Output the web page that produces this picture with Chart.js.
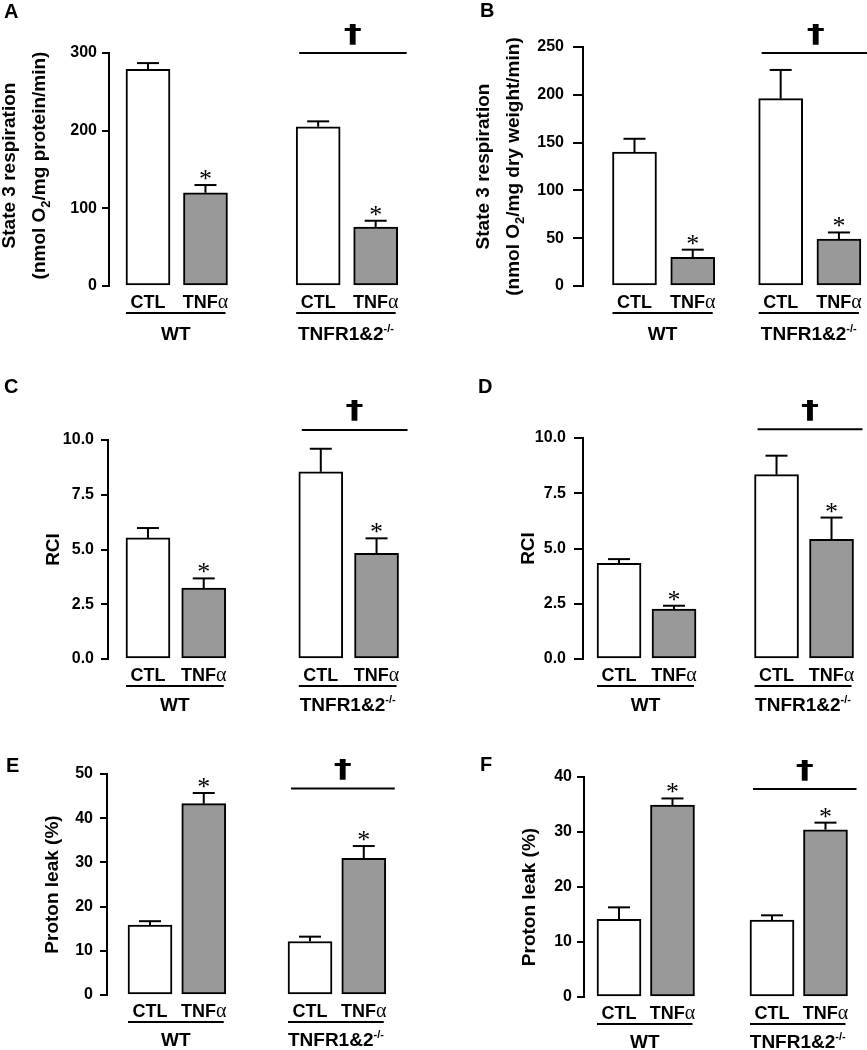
<!DOCTYPE html>
<html>
<head>
<meta charset="utf-8">
<title>Mitochondrial respiration, WT vs TNFR1&amp;2-/-</title>
<script src="https://cdn.jsdelivr.net/npm/chart.js@4.4.0/dist/chart.umd.min.js"></script>
<style>
  html, body { margin: 0; padding: 0; background: #fff; }
  #page { position: relative; width: 867px; height: 1050px; overflow: hidden; }
  #page canvas { position: absolute; left: 0; top: 0; }
</style>
</head>
<body>
<div id="page">
  <canvas id="chartA" width="867" height="1050"></canvas>
  <canvas id="chartB" width="867" height="1050"></canvas>
  <canvas id="chartC" width="867" height="1050"></canvas>
  <canvas id="chartD" width="867" height="1050"></canvas>
  <canvas id="chartE" width="867" height="1050"></canvas>
  <canvas id="chartF" width="867" height="1050"></canvas>
</div>
<script>
// bar order everywhere: WT CTL, WT TNFα, TNFR1&2-/- CTL, TNFR1&2-/- TNFα
const treatments = ['CTL', 'TNFα'];
const genotypes = ['WT', 'TNFR1&2'];
const starred = [false, true, false, true];

// A - state 3 respiration (nmol O2/mg protein/min)
const state3ProteinMean = [279, 120, 205, 76];
const state3ProteinSem = [8, 10, 7, 8];
const state3ProteinTicks = [0, 100, 200, 300];

// B - state 3 respiration (nmol O2/mg dry weight/min)
const state3DryMean = [140, 30, 196, 49];
const state3DrySem = [14, 8, 30, 7];
const state3DryTicks = [0, 50, 100, 150, 200, 250];

// C - RCI
const rciCMean = [5.53, 3.24, 8.55, 4.83];
const rciCSem = [0.45, 0.44, 1.05, 0.68];
const rciCTicks = [0, 2.5, 5, 7.5, 10];

// D - RCI
const rciDMean = [4.33, 2.26, 8.34, 5.41];
const rciDSem = [0.19, 0.15, 0.86, 0.99];
const rciDTicks = [0, 2.5, 5, 7.5, 10];

// E - proton leak (%)
const leakEMean = [15.8, 43.3, 12.1, 30.9];
const leakESem = [0.9, 2.4, 1.1, 2.8];
const leakETicks = [0, 10, 20, 30, 40, 50];

// F - proton leak (%)
const leakFMean = [14.1, 34.9, 14.0, 30.4];
const leakFSem = [2.2, 1.2, 0.85, 1.3];
const leakFTicks = [0, 10, 20, 30, 40];

const SANS = '"Liberation Sans", Arial, Helvetica, sans-serif';
const SERIF = '"Liberation Serif", "Times New Roman", serif';
const bold = (px) => `bold ${px}px ${SANS}`;

const sub = (t) => ({ t, font: bold(13), dy: 5 });
const txt = (t) => ({ t, font: bold(19) });

const panels = [
  { id: 'chartA', letter: 'A', letterAt: [4, 18], mean: state3ProteinMean, sem: state3ProteinSem, ticks: state3ProteinTicks, decimals: 0,
    title: [[txt('State 3 respiration')], [txt('(nmol O'), sub('2'), txt('/mg protein/min)')]], titleShift: -4,
    axisX: 109, top: 53, bottom: 286, right: 430, xMin: 0.322, xMax: 5.905, groupGap: 2.96, daggerAt: 300, tickLen: 7, tickPad: 5, groupLabelDy: 54 },
  { id: 'chartB', letter: 'B', letterAt: [480, 17], mean: state3DryMean, sem: state3DrySem, ticks: state3DryTicks, decimals: 0,
    title: [[txt('State 3 respiration')], [txt('(nmol O'), sub('2'), txt('/mg dry weight/min)')]], titleShift: 0,
    axisX: 583, top: 47, bottom: 286, right: 867, xMin: 0.116, xMax: 4.992, groupGap: 2.51, daggerAt: 243.7, tickLen: 10, tickPad: 9, groupLabelDy: 54 },
  { id: 'chartC', letter: 'C', letterAt: [4, 393], mean: rciCMean, sem: rciCSem, ticks: rciCTicks, decimals: 1,
    title: [[txt('RCI')]], titleShift: 0,
    axisX: 108, top: 440, bottom: 659, right: 430, xMin: 0.283, xMax: 6.059, groupGap: 3.10, daggerAt: 10.46, tickLen: 7, tickPad: 7, groupLabelDy: 52 },
  { id: 'chartD', letter: 'D', letterAt: [478, 393], mean: rciDMean, sem: rciDSem, ticks: rciDTicks, decimals: 1,
    title: [[txt('RCI')]], titleShift: 0,
    axisX: 583, top: 438, bottom: 659, right: 867, xMin: 0.345, xMax: 5.509, groupGap: 2.864, daggerAt: 10.4, tickLen: 9, tickPad: 8, groupLabelDy: 52 },
  { id: 'chartE', letter: 'E', letterAt: [6, 772], mean: leakEMean, sem: leakESem, ticks: leakETicks, decimals: 0,
    title: [[txt('Proton leak (%)')]], titleShift: 0,
    axisX: 107, top: 774, bottom: 995, right: 430, xMin: 0.2, xMax: 6.209, groupGap: 2.977, daggerAt: 46.7, tickLen: 7, tickPad: 7, groupLabelDy: 51 },
  { id: 'chartF', letter: 'F', letterAt: [480, 771], mean: leakFMean, sem: leakFSem, ticks: leakFTicks, decimals: 0,
    title: [[txt('Proton leak (%)')]], titleShift: 10,
    axisX: 584, top: 777, bottom: 997, right: 867, xMin: 0.346, xMax: 5.636, groupGap: 2.86, daggerAt: 37.8, tickLen: 7, tickPad: 5, groupLabelDy: 51 },
];

const BAR = 44;

function barX(gap) {
  return [1, 2, 1 + gap, 2 + gap];
}

function line(ctx, x1, y1, x2, y2) {
  ctx.beginPath();
  ctx.moveTo(x1, y1);
  ctx.lineTo(x2, y2);
  ctx.stroke();
}

// draws a row of text pieces (for subscripts / superscripts), baseline at y
function drawRuns(ctx, runs, x, y, align) {
  ctx.textAlign = 'left';
  ctx.textBaseline = 'alphabetic';
  const widths = runs.map(r => { ctx.font = r.font; return ctx.measureText(r.t).width; });
  const total = widths.reduce((a, b) => a + b, 0);
  let cx = align === 'center' ? x - total / 2 : x;
  runs.forEach((r, i) => {
    ctx.font = r.font;
    ctx.fillText(r.t, cx, y + (r.dy || 0));
    cx += widths[i];
  });
}

function glyphCenteredAt(ctx, t, font, cx, cy, stretch) {
  ctx.save();
  ctx.font = font;
  ctx.textAlign = 'center';
  ctx.textBaseline = 'alphabetic';
  const m = ctx.measureText(t);
  ctx.translate(cx, cy + (m.actualBoundingBoxAscent - m.actualBoundingBoxDescent) / 2);
  ctx.scale(stretch || 1, 1);
  ctx.fillText(t, 0, 0);
  ctx.restore();
}

function treatmentRuns(i) {
  if (i % 2 === 0) return [{ t: treatments[0], font: bold(18) }];
  return [{ t: 'TNF', font: bold(18) }, { t: 'α', font: `20px ${SERIF}` }];
}

function genotypeRuns(g) {
  if (g === 0) return [{ t: genotypes[0], font: bold(19) }];
  return [{ t: genotypes[1], font: bold(19) }, { t: '-/-', font: bold(11), dy: -8 }];
}

function figurePlugin(p) {
  return {
    id: 'figure' + p.letter,
    afterDraw(chart) {
      const ctx = chart.ctx;
      const xs = chart.scales.x;
      const ys = chart.scales.y;
      const pos = barX(p.groupGap).map(v => xs.getPixelForValue(v));
      const base = ys.getPixelForValue(0);

      ctx.save();
      ctx.strokeStyle = '#000';
      ctx.fillStyle = '#000';
      ctx.lineWidth = 2;

      // error bars (upper only) and stars
      p.mean.forEach((m, i) => {
        const y0 = ys.getPixelForValue(m);
        const y1 = ys.getPixelForValue(m + p.sem[i]);
        line(ctx, pos[i], y0, pos[i], y1);
        line(ctx, pos[i] - 11, y1, pos[i] + 11, y1);
        if (starred[i]) glyphCenteredAt(ctx, '*', `26px ${SERIF}`, pos[i], y1 - 10);
      });

      // category labels, underline, genotype labels
      pos.forEach((px, i) => drawRuns(ctx, treatmentRuns(i), px, base + 22, 'center'));
      [0, 1].forEach(g => {
        const l = pos[2 * g] - BAR / 2;
        const r = pos[2 * g + 1] + BAR / 2 - 2;
        line(ctx, l, base + 27, r, base + 27);
        drawRuns(ctx, genotypeRuns(g), (l + r) / 2, base + p.groupLabelDy, 'center');
      });

      // dagger over the knockout group
      const dy = ys.getPixelForValue(p.daggerAt);
      const dl = pos[2] - BAR / 2 + 3;
      const dr = pos[3] + BAR / 2 + 9;
      line(ctx, dl, dy, dr, dy);
      glyphCenteredAt(ctx, '†', `bold 25px "DejaVu Sans", ${SANS}`, (dl + dr) / 2, dy - 19, 1.45);

      // y axis title
      const cy = (ys.top + ys.bottom) / 2 + p.titleShift;
      const baselines = p.title.length === 1 ? [p.axisX - 49] : [p.axisX - 94, p.axisX - 64];
      p.title.forEach((runs, k) => {
        ctx.save();
        ctx.translate(baselines[k], cy);
        ctx.rotate(-Math.PI / 2);
        drawRuns(ctx, runs, 0, 0, 'center');
        ctx.restore();
      });

      // panel letter
      ctx.font = bold(20);
      ctx.textAlign = 'left';
      ctx.textBaseline = 'alphabetic';
      ctx.fillText(p.letter, p.letterAt[0], p.letterAt[1]);
      ctx.restore();
    }
  };
}

const Y_WIDTH = 70;

panels.forEach(p => {
  const xv = barX(p.groupGap);
  new Chart(document.getElementById(p.id), {
    type: 'bar',
    data: {
      datasets: [
        { label: treatments[0], data: [0, 2].map(i => ({ x: xv[i], y: p.mean[i] })), backgroundColor: '#ffffff' },
        { label: treatments[1], data: [1, 3].map(i => ({ x: xv[i], y: p.mean[i] })), backgroundColor: '#999999' },
      ]
    },
    options: {
      responsive: false,
      animation: false,
      events: [],
      datasets: {
        bar: { grouped: false, barThickness: BAR, borderWidth: 2, borderColor: '#000', borderSkipped: false }
      },
      layout: {
        padding: { left: p.axisX - Y_WIDTH, top: p.top, right: 867 - p.right, bottom: 1050 - p.bottom }
      },
      plugins: { legend: { display: false }, tooltip: { enabled: false } },
      scales: {
        x: { type: 'linear', display: false, offset: false, min: p.xMin, max: p.xMax },
        y: {
          min: p.ticks[0],
          max: p.ticks[p.ticks.length - 1],
          afterBuildTicks: s => { s.ticks = p.ticks.map(v => ({ value: v })); },
          afterFit: s => { s.width = Y_WIDTH; },
          grid: { drawOnChartArea: false, drawTicks: true, tickLength: p.tickLen, tickWidth: 2, tickColor: '#000', color: '#000', lineWidth: 2 },
          border: { display: true, color: '#000', width: 2 },
          ticks: {
            color: '#000',
            padding: p.tickPad,
            font: { family: SANS, size: 16, weight: 'bold' },
            callback: v => Number(v).toFixed(p.decimals)
          }
        }
      }
    },
    plugins: [figurePlugin(p)]
  });
});
</script>
</body>
</html>
